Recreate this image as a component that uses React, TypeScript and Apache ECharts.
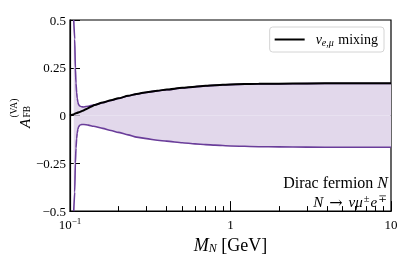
import React, { useEffect, useRef } from "react";
import * as echarts from "echarts";

// Heavy-neutral-lepton mass grid (GeV) for the band edges
const MASSES = [0.1055, 0.107, 0.108, 0.109, 0.11, 0.111, 0.112, 0.113, 0.115, 0.118, 0.122, 0.13, 0.14, 0.16, 0.18, 0.2, 0.23, 0.26, 0.3, 0.35, 0.4, 0.5, 0.6, 0.7, 0.8, 1, 1.5, 2, 3, 5, 10];
const UPPER = [0.5, 0.4, 0.25, 0.17, 0.12, 0.09, 0.07, 0.058, 0.05, 0.046, 0.045, 0.049, 0.055, 0.067, 0.079, 0.089, 0.102, 0.112, 0.121, 0.129, 0.135, 0.144, 0.15, 0.155, 0.158, 0.162, 0.165, 0.166, 0.167, 0.168, 0.168];
const LOWER = [-0.5, -0.4, -0.25, -0.17, -0.12, -0.09, -0.072, -0.06, -0.051, -0.047, -0.047, -0.05, -0.056, -0.067, -0.078, -0.088, -0.101, -0.113, -0.121, -0.129, -0.134, -0.142, -0.148, -0.152, -0.155, -0.159, -0.163, -0.164, -0.165, -0.166, -0.166];

// nu_{e,mu} mixing curve
const MIX_MASSES = [0.1, 0.105, 0.11, 0.115, 0.12, 0.128, 0.135, 0.142, 0.16, 0.18, 0.2, 0.23, 0.26, 0.3, 0.35, 0.4, 0.5, 0.6, 0.7, 0.8, 1, 1.5, 2, 3, 5, 10];
const MIX = [0, 0.006, 0.013, 0.019, 0.025, 0.036, 0.046, 0.055, 0.068, 0.08, 0.09, 0.103, 0.113, 0.122, 0.13, 0.136, 0.145, 0.151, 0.156, 0.159, 0.163, 0.166, 0.167, 0.168, 0.169, 0.169];

const Y_TICKS = [-0.5, -0.25, 0, 0.25, 0.5];
const MINOR_X_TICKS = [0.2, 0.3, 0.4, 0.5, 0.6, 0.7, 0.8, 0.9, 2, 3, 4, 5, 6, 7, 8, 9];

const FONT = '"Liberation Serif", "DejaVu Serif", serif';
const PURPLE = "#6a3d9a";
const BAND = "#e2d8eb";

export default function App() {
  const ref = useRef<HTMLDivElement>(null);
  useEffect(() => {
    if (!ref.current) return;
    const chart = echarts.init(ref.current, null, { renderer: "svg" });
    const pair = (xs: number[], ys: number[]) => xs.map((x, i) => [x, ys[i]]);
    const lineCommon = { type: "line", symbol: "none", showSymbol: false, smooth: 0.2, smoothMonotone: "x" };
    chart.setOption({
      animation: false,
      grid: { left: 70, right: 20, top: 20, bottom: 41, show: true, borderColor: "#000", borderWidth: 1.2, backgroundColor: "transparent" },
      legend: {
        data: [{ name: "mix", icon: "rect" }],
        right: 27,
        top: 27,
        itemWidth: 30,
        itemHeight: 2,
        padding: [5, 6, 5, 5],
        borderColor: "#d4d4d4",
        borderWidth: 1,
        borderRadius: 3,
        backgroundColor: "#fff",
        formatter: () => "{i|ν}{sub|e,μ}{r| mixing}",
        textStyle: {
          padding: [0, 0, 0, 6],
          lineHeight: 15,
          rich: {
            i: { fontFamily: FONT, fontStyle: "italic", fontSize: 14, color: "#000" },
            sub: { fontFamily: FONT, fontStyle: "italic", fontSize: 10, color: "#000", padding: [5, 1, 0, 0] },
            r: { fontFamily: FONT, fontSize: 14, color: "#000" },
          },
        },
      },
      xAxis: [
        {
          type: "log",
          logBase: 10,
          min: 0.1,
          max: 10,
          position: "bottom",
          name: "{i|M}{sub|N}{r| [GeV]}",
          nameLocation: "middle",
          nameGap: 17,
          nameTextStyle: {
            rich: {
              i: { fontFamily: FONT, fontStyle: "italic", fontSize: 18, color: "#000" },
              sub: { fontFamily: FONT, fontStyle: "italic", fontSize: 12, color: "#000", padding: [7, 0, 0, 0] },
              r: { fontFamily: FONT, fontSize: 18, color: "#000" },
            },
          },
          axisLine: { show: true, onZero: false, lineStyle: { color: "#000", width: 1.2 } },
          axisTick: { show: true, inside: true, length: 10, lineStyle: { color: "#000", width: 1 } },
          axisLabel: {
            margin: 5,
            formatter: (v: number) => (v < 0.5 ? "{b|10}{s|−1}" : v < 5 ? "{b|1}" : "{b|10}"),
            rich: {
              b: { fontFamily: FONT, fontSize: 13, lineHeight: 14, padding: [2, 0, 0, 0], color: "#000" },
              s: { fontFamily: FONT, fontSize: 9, lineHeight: 9, verticalAlign: "top", color: "#000" },
            },
          },
          splitLine: { show: false },
        },
        {
          type: "log",
          logBase: 10,
          min: 0.1,
          max: 10,
          position: "bottom",
          axisLine: { show: false, onZero: false },
          axisTick: { show: true, inside: true, length: 5, customValues: MINOR_X_TICKS, lineStyle: { color: "#000", width: 1 } },
          axisLabel: { show: false },
          splitLine: { show: false },
        },
      ],
      yAxis: {
        type: "value",
        min: -0.5,
        max: 0.5,
        interval: 0.25,
        axisLine: { show: true, onZero: false, lineStyle: { color: "#000", width: 1.2 } },
        axisTick: { show: true, inside: true, length: 10, customValues: Y_TICKS, lineStyle: { color: "#000", width: 1 } },
        axisLabel: {
          margin: 4,
          fontFamily: FONT,
          fontSize: 13,
          color: "#000",
          formatter: (v: number) => (v === 0 ? "0" : (v < 0 ? "−" : "") + String(Math.abs(v))),
        },
        splitLine: { show: false },
      },
      series: [
        { ...lineCommon, name: "upper", data: pair(MASSES, UPPER), lineStyle: { color: PURPLE, width: 1.6 }, itemStyle: { color: PURPLE }, areaStyle: { color: BAND, opacity: 1, origin: "auto" }, z: 2 },
        { ...lineCommon, name: "lower", data: pair(MASSES, LOWER), lineStyle: { color: PURPLE, width: 1.6 }, itemStyle: { color: PURPLE }, areaStyle: { color: BAND, opacity: 1, origin: "auto" }, z: 2 },
        { ...lineCommon, name: "mix", data: pair(MIX_MASSES, MIX), lineStyle: { color: "#000", width: 2 }, itemStyle: { color: "#000" }, z: 3 },
      ],
      graphic: [
        {
          type: "group",
          x: 0,
          y: 128,
          rotation: Math.PI / 2,
          children: [
            { type: "text", x: 0, y: 24.5, style: { text: "A", fontFamily: FONT, fontStyle: "italic", fontSize: 15, fill: "#000", align: "left", verticalAlign: "middle" } },
            { type: "text", x: 10.5, y: 13.5, style: { text: "(VA)", fontFamily: FONT, fontSize: 9.5, fill: "#000", align: "left", verticalAlign: "middle" } },
            { type: "text", x: 10.5, y: 26.5, style: { text: "FB", fontFamily: FONT, fontSize: 9.5, fill: "#000", align: "left", verticalAlign: "middle" } },
          ],
        },
        {
          type: "text",
          x: 388,
          y: 182,
          style: {
            text: "{r|Dirac fermion }{i|N}",
            align: "right",
            verticalAlign: "middle",
            rich: {
              r: { fontFamily: FONT, fontSize: 16, fill: "#000" },
              i: { fontFamily: FONT, fontStyle: "italic", fontSize: 16, fill: "#000" },
            },
          },
        },
        {
          type: "text",
          x: 388,
          y: 202,
          style: {
            text: "{i|N}{arr|→}{i|νμ}{sup|±}{i|e}{sup|∓}",
            align: "right",
            verticalAlign: "middle",
            rich: {
              arr: { fontFamily: '"DejaVu Serif", serif', fontSize: 16, fill: "#000", padding: [0, 6, 0, 6] },
              i: { fontFamily: FONT, fontStyle: "italic", fontSize: 15, fill: "#000" },
              sup: { fontFamily: FONT, fontSize: 10.5, fill: "#000", padding: [0, 1, 7, 1] },
            },
          },
        },
      ],
    });
    return () => chart.dispose();
  }, []);
  return <div ref={ref} style={{ position: "fixed", left: 0, top: 0, width: 411, height: 259 }} />;
}
